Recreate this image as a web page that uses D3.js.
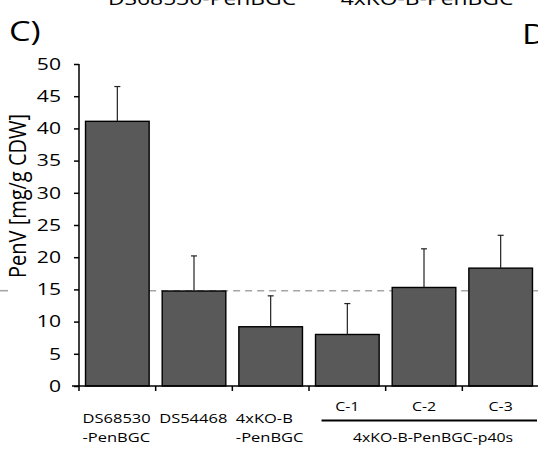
<!DOCTYPE html>
<html>
<head>
<meta charset="UTF-8">
<title>PenV bars</title>
<script src="https://cdn.jsdelivr.net/npm/d3@7"></script>
<style>
  body { margin: 0; background: #fff; }
  text { font-family: "Open Sans", sans-serif; fill: #000; }
</style>
</head>
<body>
<script>
// data
var strains = ["DS68530-PenBGC", "DS54468", "4xKO-B-PenBGC", "C-1", "C-2", "C-3"];
var penV = [41.1, 14.75, 9.2, 8.0, 15.3, 18.3];
var errUp = [5.4, 5.45, 4.8, 4.8, 6.0, 5.1];
var refLevel = 14.8;
var yTicks = [0, 5, 10, 15, 20, 25, 30, 35, 40, 45, 50];
var labelLines = [["DS68530", "-PenBGC"], ["DS54468"], ["4xKO-B", "-PenBGC"], ["C-1"], ["C-2"], ["C-3"]];
var groupLabel = "4xKO-B-PenBGC-p40s";
var topTitles = ["DS68530-PenBGC", "4xKO-B-PenBGC"];

var width = 538, height = 455;
var sx = 1.27; // the source picture is stretched sideways

var svg = d3.select("body").append("svg")
    .attr("width", width)
    .attr("height", height);

var x = d3.scaleBand()
    .domain(strains)
    .range([79, 539])
    .paddingInner(0.17)
    .paddingOuter(0.085);

var y = d3.scaleLinear()
    .domain([0, 50])
    .range([386, 64]);

function stext(px, py, str, size, anchor, k) {
    return svg.append("text")
        .attr("transform", "translate(" + px + "," + py + ") scale(" + (k || sx) + ",1)")
        .attr("font-size", size)
        .attr("text-anchor", anchor || "middle")
        .text(str);
}

// headers cut off at the top
stext(202, 5, topTitles[0], 18);
stext(427, 5, topTitles[1], 18);
stext(9, 41, "C)", 27, "start");
stext(522, 44, "D", 27, "start");

// reference dashed line
var firstRight = x(strains[0]) + x.bandwidth();
svg.append("line")
    .attr("x1", firstRight).attr("x2", width)
    .attr("y1", y(refLevel)).attr("y2", y(refLevel))
    .attr("stroke", "#a6a6a6")
    .attr("stroke-width", 1.6)
    .attr("stroke-dasharray", "7,5");
svg.append("line")
    .attr("x1", 0).attr("x2", 8)
    .attr("y1", y(refLevel)).attr("y2", y(refLevel))
    .attr("stroke", "#a6a6a6")
    .attr("stroke-width", 1.6);

// bars
svg.selectAll("rect.bar")
    .data(strains)
    .enter().append("rect")
    .attr("class", "bar")
    .attr("x", function(d) { return x(d); })
    .attr("y", function(d, i) { return y(penV[i]); })
    .attr("width", x.bandwidth())
    .attr("height", function(d, i) { return y(0) - y(penV[i]); })
    .attr("fill", "#595959")
    .attr("stroke", "#000")
    .attr("stroke-width", 1.4);

// error bars, upper side only
var eb = svg.append("g").selectAll("g")
    .data(strains)
    .enter().append("g")
    .attr("stroke", "#222")
    .attr("stroke-width", 1.2);
eb.append("line")
    .attr("x1", function(d) { return x(d) + x.bandwidth() / 2; })
    .attr("x2", function(d) { return x(d) + x.bandwidth() / 2; })
    .attr("y1", function(d, i) { return y(penV[i]); })
    .attr("y2", function(d, i) { return y(penV[i] + errUp[i]); });
eb.append("line")
    .attr("x1", function(d) { return x(d) + x.bandwidth() / 2 - 3; })
    .attr("x2", function(d) { return x(d) + x.bandwidth() / 2 + 3; })
    .attr("y1", function(d, i) { return y(penV[i] + errUp[i]); })
    .attr("y2", function(d, i) { return y(penV[i] + errUp[i]); });

// y axis
var yAxis = d3.axisLeft(y).tickValues(yTicks).tickSize(5).tickPadding(8);
var gy = svg.append("g")
    .attr("transform", "translate(79,0)")
    .call(yAxis);
gy.select(".domain").attr("stroke-width", 1.5).attr("d", "M0," + y(50) + "V" + y(0));
gy.selectAll(".tick line").attr("stroke-width", 1.5);
gy.selectAll(".tick text").remove();
yTicks.forEach(function(t) {
    stext(61, y(t) + 5.8, t, 16, "end", 1.32);
});

// x axis: ticks at band edges
var step = x.step();
var edges = d3.range(strains.length + 1).map(function(i) {
    return x(strains[0]) - x.paddingInner() * step / 2 + i * step;
});
svg.append("line")
    .attr("x1", 72).attr("x2", width)
    .attr("y1", y(0)).attr("y2", y(0))
    .attr("stroke", "#000").attr("stroke-width", 1.5);
svg.selectAll("line.xt")
    .data(edges)
    .enter().append("line")
    .attr("class", "xt")
    .attr("x1", function(d) { return d; }).attr("x2", function(d) { return d; })
    .attr("y1", y(0)).attr("y2", y(0) + 5)
    .attr("stroke", "#000").attr("stroke-width", 1.5);

// category labels
labelLines.forEach(function(lines, i) {
    var cx = x(strains[i]);
    if (i < 3) {
        lines.forEach(function(s, j) {
            stext(cx - 3, 423 + j * 19, s, 13, "start");
        });
    } else {
        stext(cx + x.bandwidth() / 2, 411, lines[0], 12.5);
    }
});

// bracket under the p40s clones
svg.append("line")
    .attr("x1", x(strains[3]) + 6).attr("x2", width - 1)
    .attr("y1", 420.5).attr("y2", 420.5)
    .attr("stroke", "#000").attr("stroke-width", 1.8);
stext(433, 442, groupLabel, 12.5);

// y axis title
svg.append("text")
    .attr("transform", "translate(26,196) scale(1.2,1) rotate(-90)")
    .attr("font-size", 20)
    .attr("text-anchor", "middle")
    .text("PenV [mg/g CDW]");
</script>
</body>
</html>
